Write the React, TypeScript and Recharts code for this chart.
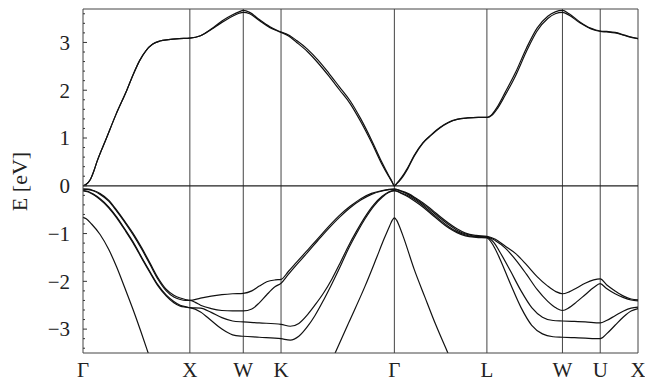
import React from 'react';
import { LineChart, Line, XAxis, YAxis, ReferenceLine } from 'recharts';

// symmetry points along the k-path (units of 2π/a)
const symK = [0, 1, 1.5, 1.8536, 2.9142, 3.7802, 4.4873, 4.8409, 5.1945];
const symLabels = ['Γ', 'X', 'W', 'K', 'Γ', 'L', 'W', 'U', 'X'];

const yTicks = [
  -3.4, -3.2, -3, -2.8, -2.6, -2.4, -2.2, -2, -1.8, -1.6, -1.4, -1.2, -1, -0.8, -0.6, -0.4, -0.2,
  0, 0.2, 0.4, 0.6, 0.8, 1, 1.2, 1.4, 1.6, 1.8, 2, 2.2, 2.4, 2.6, 2.8, 3, 3.2, 3.4, 3.6,
];

// conduction band (two nearly degenerate branches)
const cbA: number[][] = [
  [0, 0], [0.03, 0.03], [0.066, 0.12], [0.1, 0.3], [0.13, 0.5], [0.22, 1.0], [0.31, 1.5], [0.41, 2.0],
  [0.47, 2.33], [0.53, 2.62], [0.59, 2.83], [0.65, 2.96], [0.72, 3.03], [0.8, 3.06], [0.9, 3.08], [1, 3.09],
  [1.1, 3.14], [1.2, 3.28], [1.3, 3.45], [1.4, 3.58], [1.46, 3.64], [1.5, 3.67],
  [1.56, 3.63], [1.65, 3.48], [1.75, 3.33], [1.82, 3.25], [1.8536, 3.22],
  [1.92, 3.16], [2.0, 3.04], [2.1, 2.86], [2.2, 2.63], [2.3, 2.36], [2.4, 2.07], [2.5, 1.78], [2.6, 1.4],
  [2.7, 0.96], [2.8, 0.48], [2.86, 0.22], [2.89, 0.1], [2.9142, 0],
  [2.94, 0.06], [2.98, 0.17], [3.04, 0.38], [3.1, 0.64], [3.18, 0.9], [3.26, 1.07], [3.34, 1.22],
  [3.42, 1.33], [3.5, 1.39], [3.6, 1.42], [3.7, 1.43], [3.7802, 1.43],
  [3.83, 1.5], [3.88, 1.66], [3.95, 1.95], [4.05, 2.38], [4.15, 2.88], [4.25, 3.3], [4.35, 3.55],
  [4.42, 3.64], [4.4873, 3.67],
  [4.55, 3.6], [4.65, 3.43], [4.75, 3.3], [4.8, 3.26], [4.8409, 3.24],
  [4.9, 3.23], [4.98, 3.21], [5.06, 3.16], [5.12, 3.12], [5.1945, 3.08],
];
const cbB: number[][] = [
  [0, 0], [0.03, 0.03], [0.066, 0.12], [0.1, 0.3], [0.13, 0.5], [0.22, 1.0], [0.31, 1.5], [0.41, 2.0],
  [0.47, 2.33], [0.53, 2.62], [0.59, 2.83], [0.65, 2.96], [0.72, 3.03], [0.8, 3.06], [0.9, 3.08], [1, 3.09],
  [1.1, 3.14], [1.2, 3.27], [1.3, 3.42], [1.4, 3.55], [1.46, 3.61], [1.5, 3.63],
  [1.56, 3.6], [1.65, 3.46], [1.75, 3.31], [1.82, 3.24], [1.8536, 3.21],
  [1.92, 3.14], [2.0, 3.0], [2.1, 2.81], [2.2, 2.57], [2.3, 2.3], [2.4, 2.01], [2.5, 1.72], [2.6, 1.34],
  [2.7, 0.91], [2.8, 0.44], [2.86, 0.2], [2.89, 0.09], [2.9142, 0],
  [2.94, 0.05], [2.98, 0.15], [3.04, 0.36], [3.1, 0.62], [3.18, 0.89], [3.26, 1.06], [3.34, 1.21],
  [3.42, 1.32], [3.5, 1.39], [3.6, 1.42], [3.7, 1.43], [3.7802, 1.43],
  [3.83, 1.48], [3.88, 1.62], [3.95, 1.89], [4.05, 2.31], [4.15, 2.81], [4.25, 3.24], [4.35, 3.5],
  [4.42, 3.6], [4.4873, 3.63],
  [4.55, 3.57], [4.65, 3.41], [4.75, 3.29], [4.8, 3.25], [4.8409, 3.23],
  [4.9, 3.22], [4.98, 3.2], [5.06, 3.15], [5.12, 3.11], [5.1945, 3.08],
];

// valence bands
const vbA: number[][] = [
  [0, -0.07], [0.05, -0.07], [0.1, -0.1], [0.16, -0.16], [0.24, -0.3], [0.315, -0.51], [0.39, -0.74],
  [0.47, -1.0], [0.55, -1.3], [0.63, -1.63], [0.7, -1.92], [0.78, -2.17], [0.85, -2.29], [0.91, -2.35],
  [0.96, -2.38], [1, -2.4],
  [1.1, -2.35], [1.2, -2.31], [1.3, -2.28], [1.4, -2.26], [1.5, -2.25],
  [1.58, -2.2], [1.65, -2.1], [1.72, -2.01], [1.8, -1.97], [1.8536, -1.96],
  [1.92, -1.8], [2.0, -1.6], [2.1, -1.35], [2.2, -1.1], [2.3, -0.85], [2.4, -0.62], [2.5, -0.43],
  [2.6, -0.27], [2.7, -0.16], [2.8, -0.1], [2.9142, -0.07],
  [2.97, -0.1], [3.05, -0.17], [3.11, -0.25], [3.19, -0.37], [3.27, -0.51], [3.35, -0.66], [3.42, -0.78],
  [3.5, -0.9], [3.58, -0.99], [3.68, -1.04], [3.7802, -1.06],
  [3.86, -1.12], [3.95, -1.26], [4.05, -1.42], [4.15, -1.65], [4.25, -1.9], [4.35, -2.1], [4.43, -2.22],
  [4.4873, -2.26],
  [4.55, -2.22], [4.62, -2.14], [4.7, -2.04], [4.78, -1.97], [4.8409, -1.95],
  [4.9, -2.07], [4.98, -2.2], [5.06, -2.31], [5.13, -2.37], [5.1945, -2.39],
];
const vbB: number[][] = [
  [0, -0.07], [0.05, -0.08], [0.1, -0.11], [0.16, -0.18], [0.24, -0.32], [0.315, -0.53], [0.39, -0.76],
  [0.47, -1.03], [0.55, -1.33], [0.63, -1.66], [0.7, -1.95], [0.78, -2.2], [0.85, -2.33], [0.91, -2.38],
  [0.96, -2.4], [1, -2.4],
  [1.05, -2.44], [1.1, -2.5], [1.2, -2.57], [1.3, -2.61], [1.4, -2.62], [1.5, -2.62],
  [1.58, -2.58], [1.65, -2.45], [1.72, -2.28], [1.8, -2.11], [1.8536, -2.04],
  [1.92, -1.86], [2.0, -1.65], [2.1, -1.4], [2.2, -1.14], [2.3, -0.89], [2.4, -0.66], [2.5, -0.46],
  [2.6, -0.3], [2.7, -0.18], [2.8, -0.11], [2.9142, -0.07],
  [2.97, -0.11], [3.05, -0.19], [3.11, -0.27], [3.19, -0.4], [3.27, -0.54], [3.35, -0.69], [3.42, -0.81],
  [3.5, -0.93], [3.58, -1.01], [3.68, -1.06], [3.7802, -1.07],
  [3.86, -1.15], [3.95, -1.3], [4.05, -1.55], [4.15, -1.85], [4.25, -2.17], [4.35, -2.42], [4.43, -2.56],
  [4.4873, -2.61],
  [4.55, -2.55], [4.62, -2.43], [4.7, -2.28], [4.78, -2.13], [4.8409, -2.05],
  [4.9, -2.15], [4.98, -2.26], [5.06, -2.34], [5.13, -2.39], [5.1945, -2.41],
];
const vbC: number[][] = [
  [0, -0.1], [0.05, -0.12], [0.1, -0.18], [0.16, -0.27], [0.24, -0.44], [0.315, -0.65], [0.39, -0.9],
  [0.47, -1.18], [0.55, -1.5], [0.63, -1.81], [0.7, -2.07], [0.78, -2.29], [0.85, -2.42], [0.91, -2.5],
  [0.96, -2.53], [1, -2.55],
  [1.1, -2.56], [1.2, -2.65], [1.3, -2.76], [1.4, -2.83], [1.5, -2.85],
  [1.65, -2.87], [1.8536, -2.9],
  [1.94, -2.94], [2.02, -2.88], [2.1, -2.7], [2.17, -2.5], [2.25, -2.25], [2.33, -1.95], [2.41, -1.6],
  [2.48, -1.28], [2.56, -0.95], [2.64, -0.65], [2.72, -0.4], [2.8, -0.22], [2.86, -0.13], [2.9142, -0.1],
  [2.97, -0.14], [3.05, -0.22], [3.11, -0.3], [3.19, -0.43], [3.27, -0.58], [3.35, -0.73], [3.42, -0.85],
  [3.5, -0.96], [3.58, -1.03], [3.68, -1.07], [3.7802, -1.08],
  [3.85, -1.2], [3.9, -1.38], [4.0, -1.78], [4.1, -2.2], [4.2, -2.55], [4.3, -2.75], [4.4, -2.82],
  [4.4873, -2.83],
  [4.6, -2.84], [4.7, -2.85], [4.8409, -2.87],
  [4.9, -2.82], [4.98, -2.72], [5.06, -2.62], [5.13, -2.56], [5.1945, -2.54],
];
const vbD: number[][] = [
  [0, -0.1], [0.05, -0.13], [0.1, -0.19], [0.16, -0.29], [0.24, -0.46], [0.315, -0.67], [0.39, -0.92],
  [0.47, -1.2], [0.55, -1.52], [0.63, -1.83], [0.7, -2.09], [0.78, -2.31], [0.85, -2.45], [0.91, -2.52],
  [0.96, -2.54], [1, -2.55],
  [1.1, -2.64], [1.2, -2.82], [1.3, -3.0], [1.4, -3.12], [1.5, -3.15],
  [1.65, -3.17], [1.8536, -3.2],
  [1.94, -3.23], [2.02, -3.15], [2.1, -2.95], [2.17, -2.72], [2.25, -2.4], [2.33, -2.05], [2.41, -1.68],
  [2.48, -1.34], [2.56, -1.0], [2.64, -0.69], [2.72, -0.43], [2.8, -0.24], [2.86, -0.14], [2.9142, -0.1],
  [2.97, -0.15], [3.05, -0.24], [3.11, -0.33], [3.19, -0.46], [3.27, -0.61], [3.35, -0.76], [3.42, -0.88],
  [3.5, -0.98], [3.58, -1.05], [3.68, -1.08], [3.7802, -1.09],
  [3.84, -1.25], [3.9, -1.52], [4.0, -2.05], [4.1, -2.55], [4.2, -2.92], [4.3, -3.1], [4.4, -3.16],
  [4.4873, -3.17],
  [4.6, -3.18], [4.7, -3.19], [4.8409, -3.2],
  [4.9, -3.1], [4.98, -2.92], [5.06, -2.74], [5.13, -2.62], [5.1945, -2.57],
];

// split-off band pieces
const so1: number[][] = [
  [0, -0.66], [0.03, -0.69], [0.08, -0.8], [0.16, -1.02], [0.24, -1.33], [0.315, -1.7], [0.39, -2.13],
  [0.47, -2.6], [0.54, -3.04], [0.61, -3.5], [0.7, -4.1],
];
const so2: number[][] = [
  [2.2, -4.3], [2.36, -3.5], [2.484, -2.88], [2.64, -2.1], [2.74, -1.55], [2.82, -1.1], [2.87, -0.84],
  [2.895, -0.72], [2.9142, -0.67], [2.935, -0.72], [2.96, -0.84], [3.0, -1.08], [3.1, -1.75], [3.2, -2.33],
  [3.3, -2.9], [3.415, -3.5], [3.55, -4.2],
];

const bands = [cbA, cbB, vbA, vbB, vbC, vbD, so1, so2];
const toRows = (arr: number[][]) => arr.map(([k, e]) => ({ k, e }));

const textStyle: React.CSSProperties = {
  fontFamily: "'Liberation Serif', 'Times New Roman', serif",
  fontSize: 21,
  fill: '#222',
};

const fmt = (v: number) => (v < 0 ? '\u2212' + Math.abs(v) : String(v));

const YTick = (props: any) => {
  const { x, y, payload } = props;
  const v = payload.value as number;
  const major = Math.abs(v - Math.round(v)) < 1e-6;
  return (
    <g>
      <line x1={x} x2={x + (major ? 4 : 2)} y1={y} y2={y} stroke="#333" strokeWidth={1} />
      {major && (
        <text x={x - 13} y={y + 7.3} textAnchor="end" style={textStyle}>
          {fmt(Math.round(v))}
        </text>
      )}
    </g>
  );
};

const XTick = (props: any) => {
  const { x, y, payload } = props;
  const idx = symK.indexOf(payload.value);
  return (
    <text x={x} y={y + 24} textAnchor="middle" style={textStyle}>
      {symLabels[idx]}
    </text>
  );
};

const YLabel = () => (
  <text
    x={27}
    y={181.5}
    transform="rotate(-90 27 181.5)"
    textAnchor="middle"
    style={{ ...textStyle, fontSize: 22 }}
  >
    E [eV]
  </text>
);

export default function App() {
  return (
    <div style={{ position: 'absolute', left: 0, top: 0, width: 645, height: 381, background: '#fff' }}>
      <LineChart width={645} height={381} margin={{ top: 9, right: 7, bottom: 0, left: 0 }}>
        <XAxis
          dataKey="k"
          type="number"
          domain={[0, 5.1945]}
          ticks={symK}
          interval={0}
          tickSize={0}
          tickMargin={0}
          tickLine={false}
          height={28}
          axisLine={{ stroke: '#444', strokeWidth: 1 }}
          tick={<XTick />}
        />
        <YAxis
          type="number"
          domain={[-3.5, 3.7]}
          allowDataOverflow
          ticks={yTicks}
          interval={0}
          tickSize={0}
          tickMargin={0}
          tickLine={false}
          width={83}
          axisLine={{ stroke: '#444', strokeWidth: 1 }}
          tick={<YTick />}
          label={{ content: () => <YLabel /> }}
        />
        {symK.slice(1).map((k, i) => (
          <ReferenceLine key={'v' + i} x={k} stroke="#444" strokeWidth={1} />
        ))}
        <ReferenceLine y={3.7} stroke="#444" strokeWidth={1} />
        <ReferenceLine y={0} stroke="#222" strokeWidth={1.2} />
        {bands.map((b, i) => (
          <Line
            key={'b' + i}
            data={toRows(b)}
            dataKey="e"
            type="monotone"
            stroke="#111"
            strokeWidth={1.2}
            dot={false}
            activeDot={false}
            isAnimationActive={false}
          />
        ))}
      </LineChart>
    </div>
  );
}
